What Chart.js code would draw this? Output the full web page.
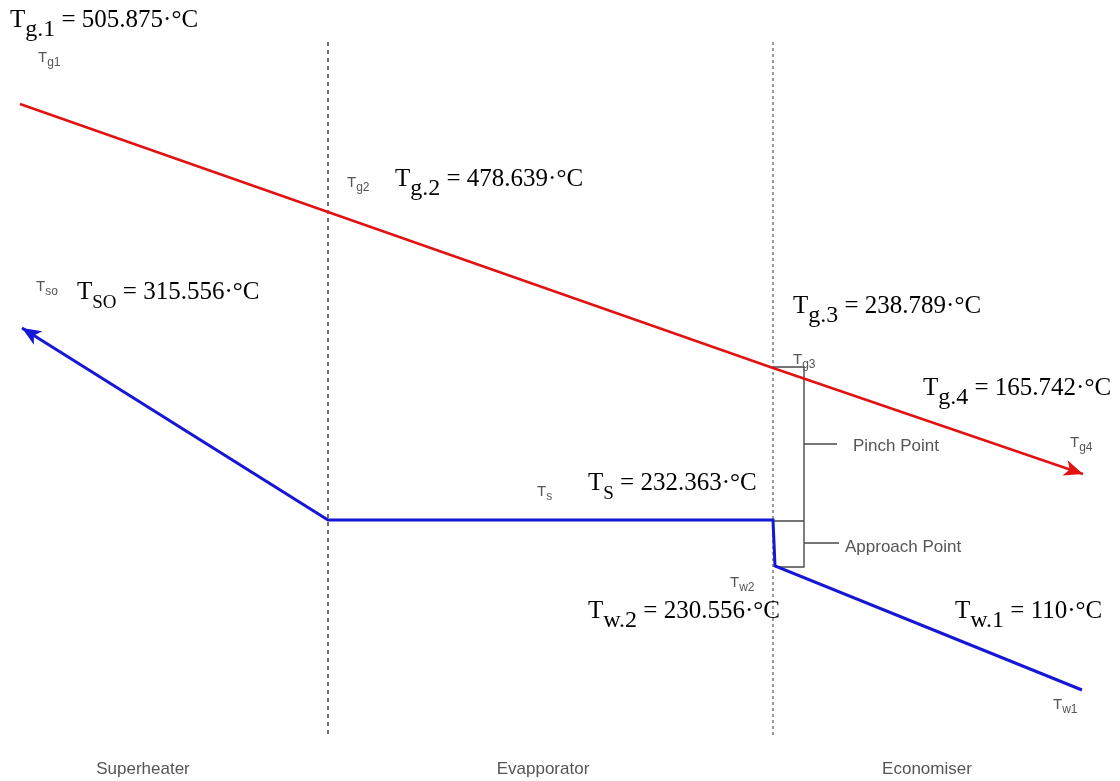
<!DOCTYPE html>
<html>
<head>
<meta charset="utf-8">
<title>HRSG temperature profile</title>
<script src="https://cdn.jsdelivr.net/npm/chart.js@4/dist/chart.umd.min.js"></script>
<style>
  html, body { margin: 0; padding: 0; background: #fff; }
  #wrap { width: 1120px; height: 781px; position: relative; }
</style>
</head>
<body>
<div id="wrap"><canvas id="profile"></canvas></div>
<script>
// diagram coordinates: x runs along the exchanger, y is the drawn level (0 = top)
const gasPathX = [20, 328, 773, 1083];
const gasPathY = [104, 212, 368, 474];
const waterPathX = [22, 328, 773, 775, 1082];
const waterPathY = [328, 520, 520, 566, 690];
const sectionDividers = [328, 773];
const sectionNames = ['Superheater', 'Evapporator', 'Economiser'];

// station temperatures shown in the labels (°C)
const gasStations = ['g.1', 'g.2', 'g.3', 'g.4'];
const gasTemps = [505.875, 478.639, 238.789, 165.742];
const waterStations = ['SO', 'S', 'w.2', 'w.1'];
const waterTemps = [315.556, 232.363, 230.556, 110];
const gasTags = ['g1', 'g2', 'g3', 'g4'];
const waterTags = ['so', 's', 'w2', 'w1'];

const toPoints = (xs, ys) => xs.map((x, i) => ({ x: x, y: ys[i] }));

// pinch / approach brackets, null breaks the polyline
const bracketPoints = [
  { x: 773, y: 367 }, { x: 804, y: 367 }, { x: 804, y: 567 }, { x: 775, y: 567 }, { x: null, y: null },
  { x: 773, y: 521 }, { x: 804, y: 521 }, { x: null, y: null },
  { x: 804, y: 444 }, { x: 837, y: 444 }, { x: null, y: null },
  { x: 804, y: 543 }, { x: 839, y: 543 }
];

const RED = '#e31212';
const BLUE = '#1616d6';

// label anchors: left x, baseline y
const bigLabelPos = {
  gas: [[10, 27], [395, 186], [793, 313], [923, 395]],
  water: [[77, 299], [588, 490], [588, 618], [955, 618]]
};
const tagPos = {
  gas: [[38, 62], [347, 187], [793, 364], [1070, 447]],
  water: [[36, 291], [537, 496], [730, 587], [1053, 709]]
};
const sectionLabelX = [143, 543, 927];

function drawSub(ctx, x, y, main, sub, tail, mainFont, subFont, drop) {
  ctx.font = mainFont;
  ctx.fillText(main, x, y);
  x += ctx.measureText(main).width;
  ctx.font = subFont;
  ctx.fillText(sub, x, y + drop);
  x += ctx.measureText(sub).width;
  ctx.font = mainFont;
  ctx.fillText(tail, x, y);
}

function arrowHead(ctx, tip, from, color) {
  const a = Math.atan2(tip.y - from.y, tip.x - from.x);
  const len = 19, half = 8;
  ctx.save();
  ctx.translate(tip.x, tip.y);
  ctx.rotate(a);
  ctx.fillStyle = color;
  ctx.beginPath();
  ctx.moveTo(0, 0);
  ctx.lineTo(-len, -half);
  ctx.lineTo(-len + 5, 0);
  ctx.lineTo(-len, half);
  ctx.closePath();
  ctx.fill();
  ctx.restore();
}

const annotations = {
  id: 'annotations',
  afterDatasetsDraw(chart) {
    const ctx = chart.ctx;
    const sx = chart.scales.x, sy = chart.scales.y;
    const px = (x, y) => ({ x: sx.getPixelForValue(x), y: sy.getPixelForValue(y) });

    // arrow heads at the gas outlet and the superheated steam outlet
    const gLast = gasPathX.length - 1;
    arrowHead(ctx, px(gasPathX[gLast], gasPathY[gLast]), px(gasPathX[gLast - 1], gasPathY[gLast - 1]), RED);
    arrowHead(ctx, px(waterPathX[0], waterPathY[0]), px(waterPathX[1], waterPathY[1]), BLUE);

    ctx.save();
    ctx.textBaseline = 'alphabetic';

    // small diagram tags
    ctx.filter = 'blur(0.5px)';
    ctx.fillStyle = '#555';
    const tagFont = '15px "Liberation Sans", Arial, sans-serif';
    const tagSub = '12px "Liberation Sans", Arial, sans-serif';
    gasTags.forEach((t, i) => {
      const p = tagPos.gas[i];
      drawSub(ctx, p[0], p[1], 'T', t, '', tagFont, tagSub, 4);
    });
    waterTags.forEach((t, i) => {
      const p = tagPos.water[i];
      drawSub(ctx, p[0], p[1], 'T', t, '', tagFont, tagSub, 4);
    });

    ctx.font = '17px "Liberation Sans", Arial, sans-serif';
    ctx.fillText('Pinch Point', 853, 451);
    ctx.fillText('Approach Point', 845, 552);
    ctx.textAlign = 'center';
    sectionNames.forEach((name, i) => ctx.fillText(name, sectionLabelX[i], 774));
    ctx.textAlign = 'left';
    ctx.filter = 'none';

    // temperature results
    ctx.fillStyle = '#000';
    const mainFont = '25px "Liberation Serif", "Times New Roman", serif';
    const subFont = '24px "Liberation Serif", "Times New Roman", serif';
    const capsSub = '19px "Liberation Serif", "Times New Roman", serif';
    gasStations.forEach((s, i) => {
      const p = bigLabelPos.gas[i];
      drawSub(ctx, p[0], p[1], 'T', s, ' = ' + gasTemps[i] + '\u00b7\u00b0C', mainFont, subFont, 9);
    });
    waterStations.forEach((s, i) => {
      const p = bigLabelPos.water[i];
      const sf = (s === 'SO' || s === 'S') ? capsSub : subFont;
      drawSub(ctx, p[0], p[1], 'T', s, ' = ' + waterTemps[i] + '\u00b7\u00b0C', mainFont, sf, 9);
    });
    ctx.restore();
  }
};

const dividerSets = sectionDividers.map((x, i) => ({
  data: [{ x: x, y: 42 }, { x: x, y: 738 }],
  borderColor: i === 0 ? '#222' : '#9a9a9a',
  borderWidth: i === 0 ? 1.3 : 2,
  borderDash: i === 0 ? [4, 4] : [3, 3],
  order: 4
}));

new Chart(document.getElementById('profile').getContext('2d'), {
  type: 'scatter',
  data: {
    datasets: [
      {
        label: 'Gas',
        data: toPoints(gasPathX, gasPathY),
        borderColor: RED,
        borderWidth: 2.5,
        order: 0
      },
      {
        label: 'Water / steam',
        data: toPoints(waterPathX, waterPathY),
        borderColor: BLUE,
        borderWidth: 3,
        order: 1
      },
      {
        label: 'Brackets',
        data: bracketPoints,
        borderColor: '#4a4a4a',
        borderWidth: 1.4,
        spanGaps: false,
        order: 2
      },
      ...dividerSets
    ]
  },
  options: {
    responsive: true,
    maintainAspectRatio: false,
    animation: false,
    layout: { padding: 0 },
    datasets: {
      scatter: { showLine: true, pointRadius: 0, tension: 0, clip: false, fill: false }
    },
    plugins: { legend: { display: false }, tooltip: { enabled: false } },
    scales: {
      x: { type: 'linear', min: 0, max: 1120, display: false },
      y: { type: 'linear', min: 0, max: 781, reverse: true, display: false }
    }
  },
  plugins: [annotations]
});
</script>
</body>
</html>
